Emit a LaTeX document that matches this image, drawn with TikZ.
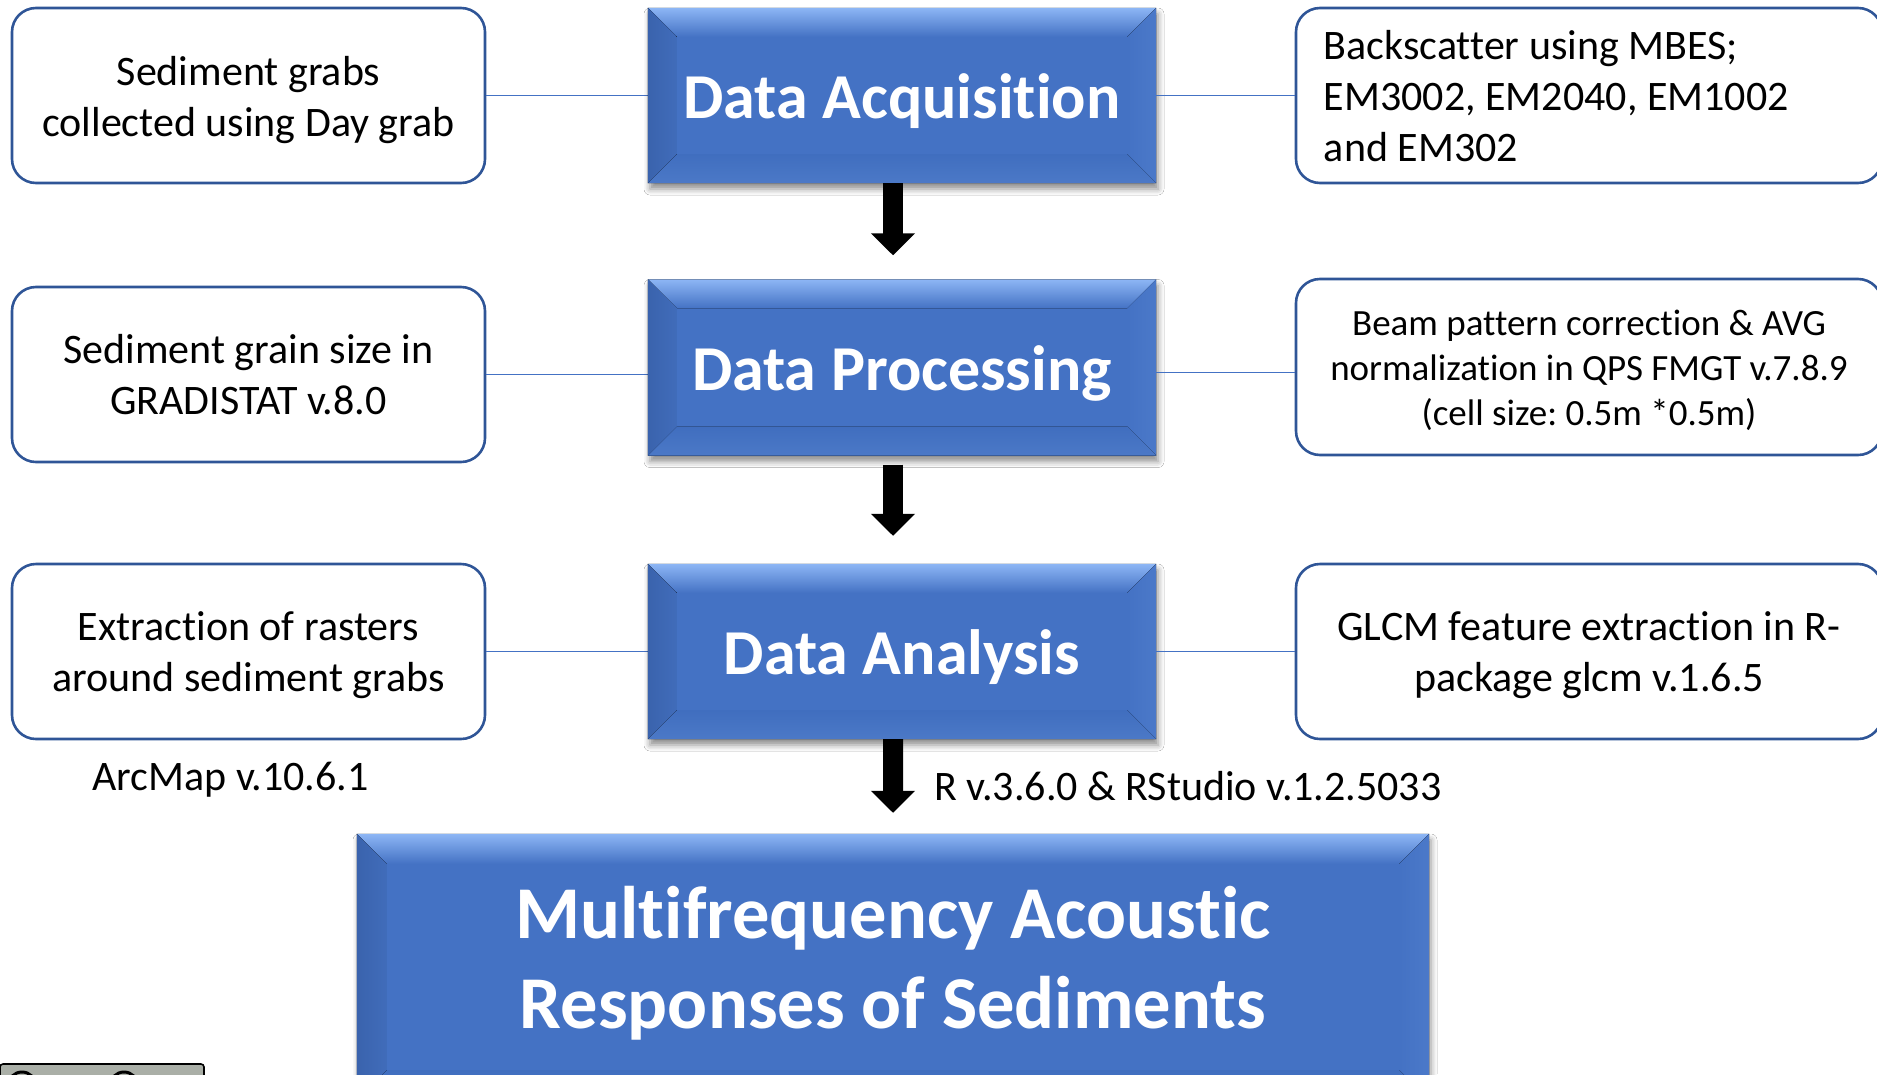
\documentclass[tikz,border=0pt]{standalone}
\usepackage{fontspec}
\setmainfont[Ligatures=NoCommon]{Carlito}
\usetikzlibrary{calc,shadows.blur,arrows.meta}

\definecolor{accent}{HTML}{4472C4}
\definecolor{bordb}{HTML}{2F5597}
\definecolor{bevtop}{HTML}{8DB6F5}
\definecolor{bevleft}{HTML}{3A63AD}
\definecolor{bevright}{HTML}{4B79C9}
\definecolor{bevbot}{HTML}{406EBF}
\definecolor{badgegray}{HTML}{AAAFA7}

\tikzset{
  sidebox/.style={draw=bordb, line width=2.6bp, rounded corners=24bp, fill=white, inner sep=0pt},
  sidetext/.style={align=center, inner sep=0pt, font=\frenchspacing\fontsize{42bp}{51bp}\selectfont},
  smalltext/.style={sidetext, font=\frenchspacing\fontsize{37bp}{45bp}\selectfont},
  mainbox/.style={fill=accent, inner sep=0pt,
    blur shadow={shadow xshift=2bp, shadow yshift=-6bp, shadow blur radius=6bp, shadow opacity=45}},
  maintext/.style={text=white, inner sep=0pt, font=\bfseries\fontsize{64bp}{77bp}\selectfont},
  titletext/.style={text=white, align=center, inner sep=0pt,
    font=\bfseries\fontsize{74.5bp}{90bp}\selectfont},
  plaintext/.style={inner sep=0pt, font=\frenchspacing\fontsize{42bp}{51bp}\selectfont},
  link/.style={draw=accent, line width=1.4bp},
  flowarrow/.style={draw=black, line width=20bp, -{Triangle[width=43bp,length=22bp]}}
}

\newcommand\bevelit[2]{%
  \fill[top color=bevtop, bottom color=accent]
    (#1.north west) -- (#1.north east) -- ($(#1.north east)+(-#2,#2)$) -- ($(#1.north west)+(#2,#2)$) -- cycle;
  \fill[left color=bevleft, right color=accent!95!black]
    (#1.north west) -- ($(#1.north west)+(#2,#2)$) -- ($(#1.south west)+(#2,-#2)$) -- (#1.south west) -- cycle;
  \fill[right color=bevright, left color=accent]
    (#1.north east) -- ($(#1.north east)+(-#2,#2)$) -- ($(#1.south east)+(-#2,-#2)$) -- (#1.south east) -- cycle;
  \fill[bottom color=bevbot!85!bevtop, top color=bevbot]
    (#1.south west) -- ($(#1.south west)+(#2,-#2)$) -- ($(#1.south east)+(-#2,-#2)$) -- (#1.south east) -- cycle;
}

\begin{document}
\begin{tikzpicture}[x=1bp,y=-1bp]
\clip (0,0) rectangle (1877,1074);
\fill[white] (0,0) rectangle (1877,1074);

% left side boxes
\node[sidebox, minimum width=473bp, minimum height=175bp] (sg) at (248.5,95.5) {};
\node[sidetext] (sgt) at ([yshift=-5bp]sg.center) {Sediment grabs\\collected using Day grab};
\node[sidebox, minimum width=473bp, minimum height=175bp] (gs) at (248.5,374.5) {};
\node[sidetext] (gst) at (gs.center) {Sediment grain size in\\GRADISTAT v.8.0};
\node[sidebox, minimum width=473bp, minimum height=175bp] (ex) at (248.5,651.5) {};
\node[sidetext] (ext) at ([yshift=-3.5bp]ex.center) {Extraction of rasters\\around sediment grabs};

% right side boxes
\node[sidebox, minimum width=586bp, minimum height=175bp] (bs) at (1589,95.5) {};
\node[sidetext, align=left, anchor=west] (bst) at ([xshift=29bp,yshift=-1bp]bs.west)
  {Backscatter using MBES;\\EM3002, EM2040, EM1002\\and EM302};
\node[sidebox, minimum width=586bp, minimum height=176bp] (bp) at (1589,367) {};
\node[smalltext] (bpt) at ([yshift=-3.5bp]bp.center)
  {Beam pattern correction \& AVG\\normalization in QPS FMGT v.7.8.9\\(cell size: 0.5m *0.5m)};
\node[sidebox, minimum width=586bp, minimum height=175bp] (gl) at (1589,651.5) {};
\node[sidetext] (glt) at ([yshift=-3.5bp]gl.center) {GLCM feature extraction in R-\\package glcm v.1.6.5};

% connectors (left)
\draw[link] (sg.east) -- (sg.east -| 648,0);
\draw[link] (gs.east) -- (gs.east -| 648,0);
\draw[link] (ex.east) -- (ex.east -| 648,0);

% main boxes
\node[mainbox, minimum width=508bp, minimum height=175bp] (acq) at (902,95.5) {};
\bevelit{acq}{29}
\node[maintext] (acqt) at ([yshift=-6bp]acq.center) {Data Acquisition};
\node[mainbox, minimum width=508bp, minimum height=176bp] (proc) at (902,367.5) {};
\bevelit{proc}{29}
\node[maintext] (proct) at ([yshift=-6bp]proc.center) {Data Processing};
\node[mainbox, minimum width=508bp, minimum height=175bp] (ana) at (902,651.5) {};
\bevelit{ana}{29}
\node[maintext] (anat) at ([yshift=-6bp]ana.center) {Data Analysis};
\node[mainbox, minimum width=1072bp, minimum height=266bp] (fin) at (893,967) {};
\bevelit{fin}{30}
\node[titletext] (fint) at (893,963.5) {Multifrequency Acoustic\\Responses of Sediments};

% connectors (right)
\draw[link] (acq.east) -- (bs.west);
\draw[link] ([yshift=-5bp]proc.east) -- ([yshift=-5bp]proc.east -| bp.west);
\draw[link] (ana.east) -- (gl.west);

% flow arrows
\draw[flowarrow, shorten >=24bp] ([xshift=-9bp]acq.south) -- ([xshift=-9bp]proc.north);
\draw[flowarrow, shorten <=9bp, shorten >=28bp] ([xshift=-9bp]proc.south) -- ([xshift=-9bp]ana.north);
\draw[flowarrow, shorten >=21bp] ([xshift=-9bp]ana.south) -- (fin.north);

% labels
\node[plaintext] (arc) at (230.5,779.5) {ArcMap v.10.6.1};
\node[plaintext] (rv) at (1188,786) {R v.3.6.0 \& RStudio v.1.2.5033};

% cut-off badge
\draw[fill=badgegray, draw=black, line width=1.6bp, rounded corners=3bp] (0,1064) rectangle (204,1100);
\draw[black, line width=3bp] (22,1086) circle (14);
\draw[black, line width=3bp] (124,1086) circle (14);
\end{tikzpicture}
\end{document}
